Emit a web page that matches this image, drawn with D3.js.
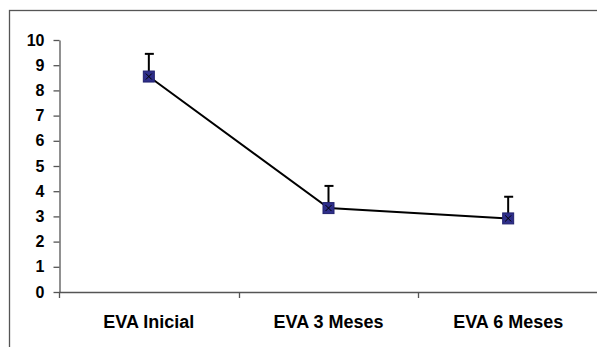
<!DOCTYPE html>
<html>
<head>
<meta charset="utf-8">
<script src="https://cdn.jsdelivr.net/npm/d3@7"></script>
<style>
  body { margin: 0; background: #fff; }
  text { font-family: "Liberation Sans", Arial, sans-serif; font-weight: bold; }
</style>
</head>
<body>
<div id="chart"></div>
<script>
// data
const categories = ["EVA Inicial", "EVA 3 Meses", "EVA 6 Meses"];
const means = [8.55, 3.33, 2.92];
const errUp = [0.9, 0.88, 0.86];
const yTicks = [0, 1, 2, 3, 4, 5, 6, 7, 8, 9, 10];

const WIDTH = 597;
const HEIGHT = 347;
const MARKER = "#2e2e8a";

const svg = d3.select("#chart").append("svg")
  .attr("width", WIDTH)
  .attr("height", HEIGHT);

// outer frame
svg.append("rect")
  .attr("x", 9.5).attr("y", 10.5)
  .attr("width", 600).attr("height", 400)
  .attr("fill", "none")
  .attr("stroke", "#555")
  .attr("stroke-width", 1.3);

const x = d3.scaleBand().domain(categories).range([59, 598]);
const y = d3.scaleLinear().domain([0, 10]).range([292, 40]);

// y axis
const yAxis = svg.append("g")
  .attr("transform", "translate(59.5,0)")
  .call(d3.axisLeft(y).tickValues(yTicks).tickSize(6).tickSizeOuter(0).tickPadding(9));
yAxis.select(".domain").attr("stroke", "#555").attr("stroke-width", 1.3);
yAxis.selectAll(".tick line").attr("stroke", "#555").attr("stroke-width", 1.3);
yAxis.selectAll("text").attr("font-size", 16).attr("fill", "#000");

// x axis line
svg.append("line")
  .attr("x1", 59).attr("x2", 598)
  .attr("y1", y(0) + 0.5).attr("y2", y(0) + 0.5)
  .attr("stroke", "#555").attr("stroke-width", 1.3);

// x ticks at category boundaries
const bounds = categories.map(c => x(c));
svg.append("g").selectAll("line")
  .data(bounds)
  .enter().append("line")
  .attr("x1", d => Math.round(d) + 0.5).attr("x2", d => Math.round(d) + 0.5)
  .attr("y1", y(0)).attr("y2", y(0) + 6)
  .attr("stroke", "#555").attr("stroke-width", 1.3);

// category labels
svg.append("g").selectAll("text")
  .data(categories)
  .enter().append("text")
  .attr("x", d => x(d) + x.bandwidth() / 2)
  .attr("y", 328)
  .attr("text-anchor", "middle")
  .attr("font-size", 18)
  .text(d => d);

const pts = categories.map((c, i) => ({ c: c, v: means[i], e: errUp[i] }));
const cx = d => x(d.c) + x.bandwidth() / 2;

// error bars
const eb = svg.append("g");
eb.selectAll(".ev").data(pts).enter().append("line")
  .attr("x1", cx).attr("x2", cx)
  .attr("y1", d => y(d.v)).attr("y2", d => y(d.v + d.e))
  .attr("stroke", "#000").attr("stroke-width", 2);
eb.selectAll(".ec").data(pts).enter().append("line")
  .attr("x1", d => cx(d) - 4).attr("x2", d => cx(d) + 5)
  .attr("y1", d => y(d.v + d.e)).attr("y2", d => y(d.v + d.e))
  .attr("stroke", "#000").attr("stroke-width", 2);

// line
svg.append("path")
  .datum(pts)
  .attr("fill", "none")
  .attr("stroke", "#000")
  .attr("stroke-width", 2)
  .attr("d", d3.line().x(cx).y(d => y(d.v)));

// markers
const m = svg.append("g").selectAll("g")
  .data(pts).enter().append("g")
  .attr("transform", d => `translate(${cx(d)},${y(d.v)})`);
m.append("rect")
  .attr("x", -5.5).attr("y", -5.5)
  .attr("width", 11).attr("height", 11)
  .attr("fill", MARKER)
  .attr("stroke", "#22226e").attr("stroke-width", 1);
m.append("path")
  .attr("d", "M-3,-3L3,3M-3,3L3,-3")
  .attr("stroke", "#000").attr("stroke-width", 1);
</script>
</body>
</html>
